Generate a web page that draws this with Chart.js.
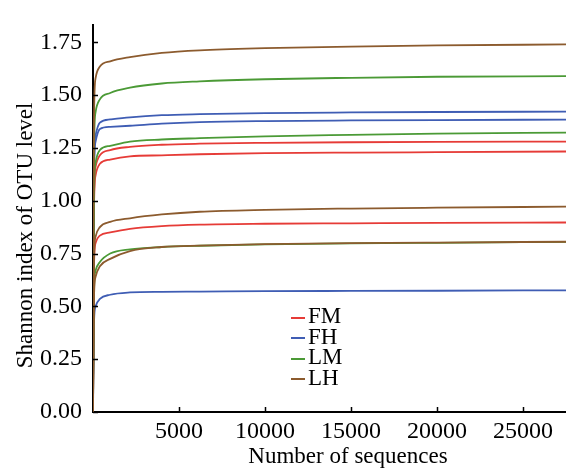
<!DOCTYPE html>
<html>
<head>
<meta charset="utf-8">
<script src="https://cdn.jsdelivr.net/npm/chart.js@4/dist/chart.umd.min.js"></script>
<style>
  body { margin: 0; background: #fff; }
  #wrap { position: relative; width: 566px; height: 470px; overflow: hidden; }
  #legend { position: absolute; left: 291px; top: 306px; font-family: "Liberation Serif", serif; font-size: 23px; color: #000; }
  #legend div { height: 20.5px; line-height: 20.5px; white-space: nowrap; }
  #legend span.mark { display: inline-block; width: 14px; height: 2px; vertical-align: middle; margin-right: 3px; }
</style>
</head>
<body>
<div id="wrap">
  <canvas id="myChart" width="566" height="470"></canvas>
  <div id="legend"></div>
</div>
<script>
// sequences sampled along the rarefaction curves
var seqs = [0, 60, 150, 400, 1000, 2150, 4000, 6200, 10000, 15000, 20000, 27500];

var groups = ["FM", "FH", "LM", "LH"];
var groupColors = ["#e63b37", "#3f5db4", "#4b9a36", "#8c5b2e"];

// shannon index per sample, three samples per group
var fm1 = [0, 1.02, 1.16, 1.215, 1.24, 1.255, 1.265, 1.27, 1.274, 1.277, 1.279, 1.28];
var fm2 = [0, 0.98, 1.12, 1.175, 1.195, 1.21, 1.215, 1.22, 1.225, 1.228, 1.23, 1.233];
var fm3 = [0, 0.70, 0.80, 0.835, 0.85, 0.867, 0.88, 0.887, 0.891, 0.893, 0.895, 0.897];

var fh1 = [0, 1.17, 1.31, 1.37, 1.385, 1.395, 1.405, 1.41, 1.415, 1.418, 1.42, 1.422];
var fh2 = [0, 1.14, 1.28, 1.34, 1.35, 1.355, 1.365, 1.372, 1.377, 1.38, 1.382, 1.384];
var fh3 = [0, 0.43, 0.50, 0.535, 0.555, 0.566, 0.569, 0.57, 0.572, 0.573, 0.574, 0.576];

var lm1 = [0, 1.25, 1.42, 1.48, 1.51, 1.535, 1.555, 1.565, 1.575, 1.582, 1.587, 1.59];
var lm2 = [0, 1.03, 1.18, 1.24, 1.26, 1.28, 1.29, 1.296, 1.305, 1.312, 1.318, 1.322];
var lm3 = [0, 0.58, 0.67, 0.71, 0.75, 0.77, 0.781, 0.787, 0.793, 0.798, 0.801, 0.805];

var lh1 = [0, 1.40, 1.58, 1.635, 1.66, 1.68, 1.70, 1.712, 1.722, 1.73, 1.735, 1.74];
var lh2 = [0, 0.72, 0.83, 0.875, 0.90, 0.917, 0.935, 0.948, 0.957, 0.963, 0.967, 0.972];
var lh3 = [0, 0.55, 0.64, 0.69, 0.725, 0.762, 0.781, 0.788, 0.795, 0.799, 0.802, 0.806];

var series = [[fm1, fm2, fm3], [fh1, fh2, fh3], [lm1, lm2, lm3], [lh1, lh2, lh3]];

var yTicks = [0, 0.25, 0.5, 0.75, 1.0, 1.25, 1.5, 1.75];
var xTicks = [5000, 10000, 15000, 20000, 25000];

var serif = "'Liberation Serif', 'Times New Roman', serif";

var datasets = [];
series.forEach((grp, g) => {
  grp.forEach((vals, k) => {
    datasets.push({
      label: groups[g],
      data: seqs.map((s, i) => ({ x: s, y: vals[i] })),
      borderColor: groupColors[g],
      borderWidth: 1.8,
      pointRadius: 0,
      fill: false,
      cubicInterpolationMode: "monotone",
      order: groups.length - g
    });
  });
});

// legend
groups.forEach((name, g) => {
  var row = document.createElement("div");
  row.innerHTML = '<span class="mark" style="background:' + groupColors[g] + '"></span>' + name;
  document.getElementById("legend").appendChild(row);
});

// ticks pointing into the plot, plus the axis titles
var extras = {
  id: "extras",
  afterDraw: chart => {
    var ctx = chart.ctx;
    var area = chart.chartArea;
    var xs = chart.scales.x, ys = chart.scales.y;
    ctx.save();
    ctx.strokeStyle = "#000";
    ctx.lineWidth = 1.5;
    ctx.beginPath();
    xTicks.forEach(v => {
      var px = Math.round(xs.getPixelForValue(v)) + 0.5;
      ctx.moveTo(px, area.bottom);
      ctx.lineTo(px, area.bottom - 5);
    });
    yTicks.forEach(v => {
      var py = Math.round(ys.getPixelForValue(v)) + 0.5;
      ctx.moveTo(area.left, py);
      ctx.lineTo(area.left + 5, py);
    });
    ctx.stroke();

    ctx.fillStyle = "#000";
    ctx.font = "23px " + serif;
    ctx.textAlign = "center";
    ctx.textBaseline = "alphabetic";
    ctx.fillText("Number of sequences", area.left + 255, 463);
    ctx.translate(32, area.top + 210);
    ctx.rotate(-Math.PI / 2);
    ctx.fillText("Shannon index of OTU level", 0, 0);
    ctx.restore();
  }
};

var ctx = document.getElementById("myChart");
var myChart = new Chart(ctx, {
  type: "line",
  data: { datasets: datasets },
  options: {
    responsive: false,
    animation: false,
    devicePixelRatio: 1,
    layout: { padding: { top: 13, left: 0, right: 0, bottom: 0 } },
    plugins: {
      legend: { display: false },
      tooltip: { enabled: false }
    },
    scales: {
      x: {
        type: "linear",
        min: 0,
        max: 27500,
        afterBuildTicks: scale => {
          scale.ticks = xTicks.map(v => ({ value: v }));
        },
        afterFit: scale => { scale.height = 58; },
        grid: { display: false, drawTicks: false },
        border: { display: true, color: "#000", width: 2 },
        ticks: {
          padding: 5,
          color: "#000",
          maxRotation: 0,
          autoSkip: false,
          font: { family: serif, size: 24 },
          callback: v => String(v)
        }
      },
      y: {
        type: "linear",
        min: 0,
        max: 1.83,
        afterBuildTicks: scale => {
          scale.ticks = yTicks.map(v => ({ value: v }));
        },
        afterFit: scale => { scale.width = 93; },
        grid: { display: false, drawTicks: false },
        border: { display: true, color: "#000", width: 2 },
        ticks: {
          padding: 11,
          color: "#000",
          autoSkip: false,
          font: { family: serif, size: 24 },
          callback: v => v.toFixed(2)
        }
      }
    }
  },
  plugins: [extras]
});
</script>
</body>
</html>
